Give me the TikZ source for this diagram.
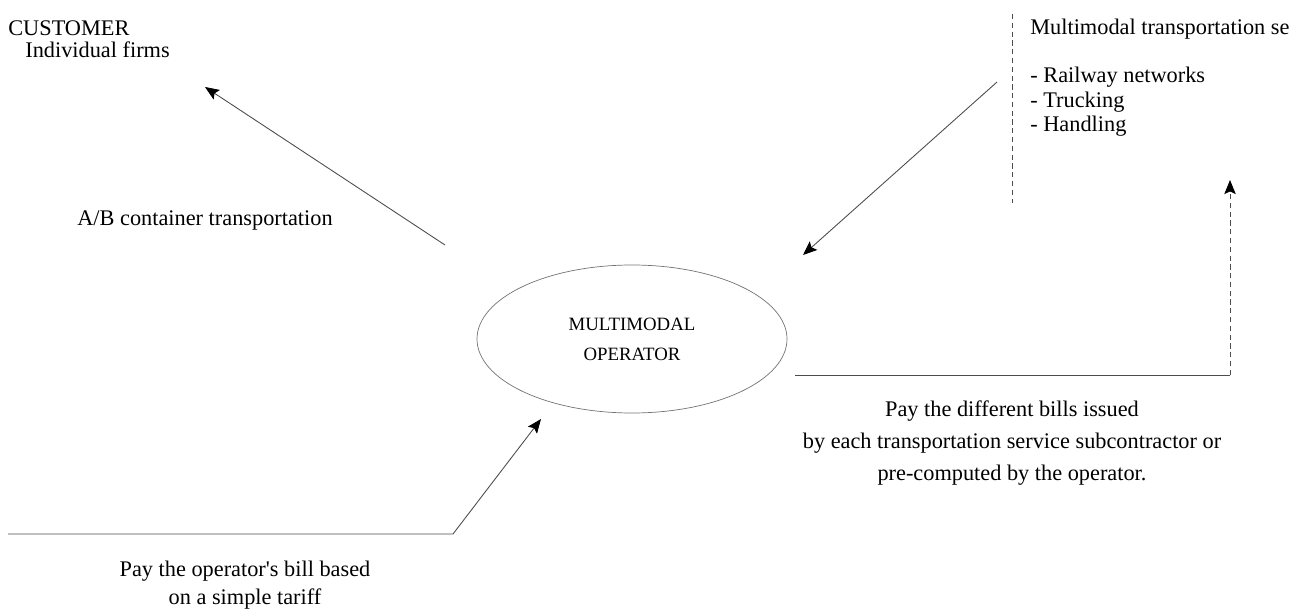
\documentclass[tikz,border=0pt]{standalone}
\usepackage{fontspec}
\setmainfont{Liberation Serif}
\usetikzlibrary{arrows.meta,shapes.geometric}

\begin{document}
\begin{tikzpicture}[
    >={Stealth[length=8pt,width=6.5pt,inset=1.5pt,color=black]},
    txt/.style={font=\fontsize{12.7}{15}\selectfont, inner sep=0pt},
    para/.style={txt, align=center},
    actor/.style={ellipse, draw=black!55, thin, minimum width=6.2cm,
      minimum height=2.96cm, align=center, inner sep=0pt,
      font=\fontsize{10.7}{17}\selectfont},
    flow/.style={->, draw=black!70, line width=.5pt},
    wire/.style={draw=black!70, line width=.5pt},
  ]
    \useasboundingbox (0,0) rectangle (26.28,12.26);

    \node[txt, anchor=base west] (customer) at (0.16,11.54) {CUSTOMER};
    \node[txt, anchor=base west] (firms) at (0.5,11.1) {Individual firms};
    \node[txt, anchor=base] (ab) at (4.1,7.76) {A/B container transportation};

    \node[txt, anchor=base west] (services) at (20.6,11.56)
      {Multimodal transportation se};
    \node[txt, anchor=base west] (rail) at (20.6,10.6) {- Railway networks};
    \node[txt, anchor=base west] (truck) at (20.6,10.1) {- Trucking};
    \node[txt, anchor=base west] (handle) at (20.6,9.62) {- Handling};
    \draw[wire, densely dashed] (20.24,11.98) -- (20.24,8.2);

    \node[actor] (operator) at (12.64,5.48) {MULTIMODAL\\OPERATOR};

    \coordinate (abtail) at (8.9,7.36);
    \coordinate (abtip) at (4.1,10.52);
    \draw[flow] (abtail) -- (abtip);

    \coordinate (svtail) at (19.94,10.62);
    \coordinate (svtip) at (16.06,7.16);
    \draw[flow] (svtail) -- (svtip);

    \coordinate (paystart) at (15.9,4.76);
    \coordinate (paycorner) at (24.6,4.76);
    \coordinate (paytip) at (24.6,8.66);
    \draw[wire] (paystart) -- (paycorner);
    \draw[flow, densely dashed] (paycorner) -- (paytip);
    \node[para, font=\fontsize{12.7}{18}\selectfont] (billsright) at (20.24,3.4)
      {Pay the different bills issued\\
       by each transportation service subcontractor or\\
       pre-computed by the operator.};

    \coordinate (tarstart) at (0.16,1.58);
    \coordinate (tarcorner) at (9.06,1.58);
    \coordinate (tartip) at (10.82,3.88);
    \draw[flow] (tarstart) -- (tarcorner) -- (tartip);
    \node[para, font=\fontsize{12.7}{16}\selectfont] (billsleft) at (4.9,0.56)
      {Pay the operator\textquotesingle s bill based\\on a simple tariff};
\end{tikzpicture}
\end{document}
